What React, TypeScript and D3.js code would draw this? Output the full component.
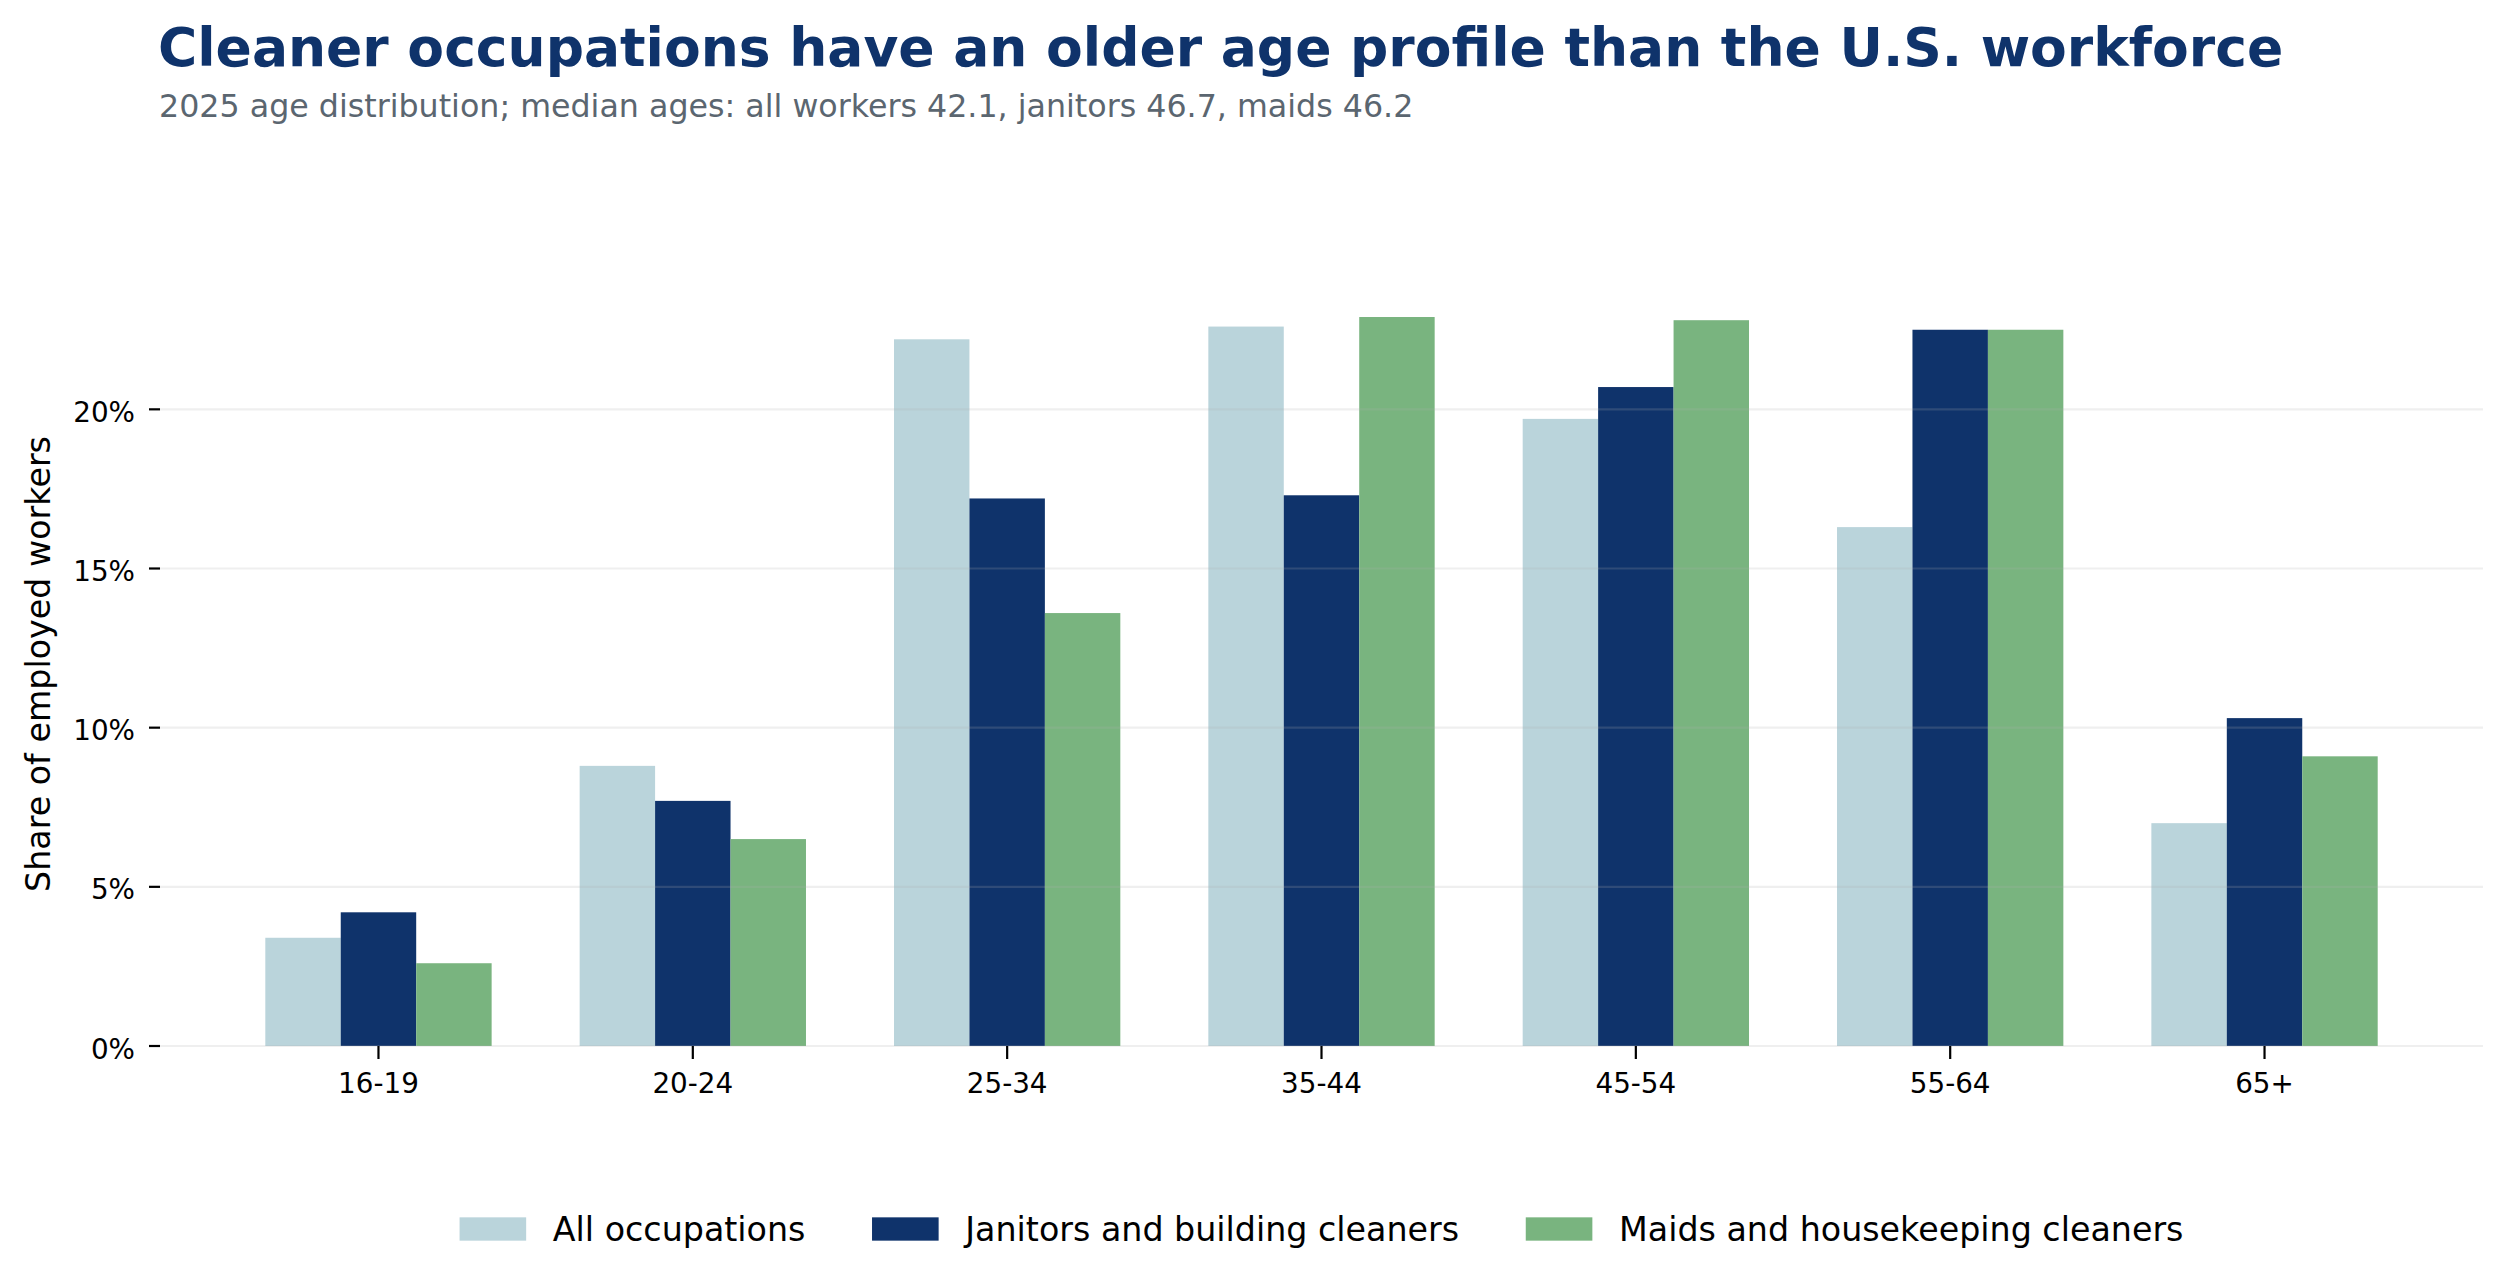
import React, { useEffect, useRef } from 'react';
import * as d3 from 'd3';

// Age distribution of employed workers, 2025 (share of each group, %)
const ageGroups = ['16-19', '20-24', '25-34', '35-44', '45-54', '55-64', '65+'];
const allOccupations = [3.4, 8.8, 22.2, 22.6, 19.7, 16.3, 7.0];
const janitors = [4.2, 7.7, 17.2, 17.3, 20.7, 22.5, 10.3];
const maids = [2.6, 6.5, 13.6, 22.9, 22.8, 22.5, 9.1];

const seriesNames = ['All occupations', 'Janitors and building cleaners', 'Maids and housekeeping cleaners'];
const seriesColors = ['#bad4db', '#0f336b', '#79b47f'];
const yTicks = [0, 5, 10, 15, 20];

const FONT = '"DejaVu Sans", sans-serif';

const App: React.FC = () => {
  const svgRef = useRef<SVGSVGElement>(null);

  useEffect(() => {
    document.body.style.margin = '0';
    if (!svgRef.current) return;

    const svg = d3.select(svgRef.current);
    svg.selectAll('*').remove();

    const width = 2507;
    const height = 1285;
    const plot = { left: 160, right: 2483, top: 282, bottom: 1046 };

    svg.attr('width', width).attr('height', height);
    svg.append('rect').attr('width', width).attr('height', height).attr('fill', '#ffffff');

    const series = [allOccupations, janitors, maids];

    const x = d3.scaleBand<string>()
      .domain(ageGroups)
      .range([plot.left, plot.right])
      .paddingInner(0)
      .paddingOuter(0.195);

    const step = x.step();
    const groupWidth = step * 0.72;
    const xInner = d3.scaleBand<number>()
      .domain(d3.range(series.length))
      .range([0, groupWidth]);

    const y = d3.scaleLinear().domain([0, 24.0]).range([plot.bottom, plot.top]);

    // Title + subtitle
    svg.append('text')
      .attr('x', 158)
      .attr('y', 66)
      .attr('font-family', FONT)
      .attr('font-size', 53.5)
      .attr('font-weight', 'bold')
      .attr('fill', '#0f336b')
      .text('Cleaner occupations have an older age profile than the U.S. workforce');

    svg.append('text')
      .attr('x', 159)
      .attr('y', 117.3)
      .attr('font-family', FONT)
      .attr('font-size', 31.7)
      .attr('fill', '#5b6670')
      .text('2025 age distribution; median ages: all workers 42.1, janitors 46.7, maids 46.2');

    // Bars
    series.forEach((values, si) => {
      svg.append('g')
        .selectAll('rect')
        .data(values)
        .enter()
        .append('rect')
        .attr('x', (_d, i) => x(ageGroups[i])! + (step - groupWidth) / 2 + xInner(si)!)
        .attr('y', d => y(d))
        .attr('width', xInner.bandwidth())
        .attr('height', d => y(0) - y(d))
        .attr('fill', seriesColors[si]);
    });

    // Gridlines sit above the bars
    svg.append('g')
      .selectAll('line')
      .data(yTicks)
      .enter()
      .append('line')
      .attr('x1', plot.left)
      .attr('x2', plot.right)
      .attr('y1', d => y(d))
      .attr('y2', d => y(d))
      .attr('stroke', '#b0b0b0')
      .attr('stroke-opacity', 0.2)
      .attr('stroke-width', 2.2);

    // Y axis
    const yAxis = svg.append('g');
    yAxis.selectAll('line')
      .data(yTicks)
      .enter()
      .append('line')
      .attr('x1', plot.left - 11)
      .attr('x2', plot.left)
      .attr('y1', d => y(d))
      .attr('y2', d => y(d))
      .attr('stroke', '#000')
      .attr('stroke-width', 2.2);
    yAxis.selectAll('text')
      .data(yTicks)
      .enter()
      .append('text')
      .attr('x', plot.left - 25)
      .attr('y', d => y(d) + 12.5)
      .attr('text-anchor', 'end')
      .attr('font-family', FONT)
      .attr('font-size', 27.8)
      .attr('fill', '#000')
      .text(d => `${d}%`);

    svg.append('text')
      .attr('transform', `translate(50, ${(plot.top + plot.bottom) / 2}) rotate(-90)`)
      .attr('text-anchor', 'middle')
      .attr('font-family', FONT)
      .attr('font-size', 33.3)
      .attr('fill', '#000')
      .text('Share of employed workers');

    // X axis
    const xAxis = svg.append('g');
    xAxis.selectAll('line')
      .data(ageGroups)
      .enter()
      .append('line')
      .attr('x1', d => x(d)! + step / 2)
      .attr('x2', d => x(d)! + step / 2)
      .attr('y1', plot.bottom)
      .attr('y2', plot.bottom + 13)
      .attr('stroke', '#000')
      .attr('stroke-width', 2.2);
    xAxis.selectAll('text')
      .data(ageGroups)
      .enter()
      .append('text')
      .attr('x', d => x(d)! + step / 2)
      .attr('y', 1093)
      .attr('text-anchor', 'middle')
      .attr('font-family', FONT)
      .attr('font-size', 27.8)
      .attr('fill', '#000')
      .text(d => d);

    // Legend, centred under the plot
    const legendFont = 33.3;
    const patchW = legendFont * 2;
    const patchH = legendFont * 0.7;
    const textPad = legendFont * 0.8;
    const colGap = legendFont * 2;
    const legend = svg.append('g');
    const items = seriesNames.map((name, i) => {
      const g = legend.append('g');
      g.append('rect')
        .attr('y', 1229 - patchH / 2)
        .attr('width', patchW)
        .attr('height', patchH)
        .attr('fill', seriesColors[i]);
      const t = g.append('text')
        .attr('x', patchW + textPad)
        .attr('y', 1241)
        .attr('font-family', FONT)
        .attr('font-size', legendFont)
        .attr('fill', '#000')
        .text(name);
      const w = patchW + textPad + (t.node() as SVGTextElement).getComputedTextLength();
      return { g, w };
    });
    const total = d3.sum(items, d => d.w) + colGap * (items.length - 1);
    let cursor = (plot.left + plot.right) / 2 - total / 2;
    items.forEach(item => {
      item.g.attr('transform', `translate(${cursor},0)`);
      cursor += item.w + colGap;
    });
  }, []);

  return <svg ref={svgRef} style={{ display: 'block' }}></svg>;
};

export default App;
